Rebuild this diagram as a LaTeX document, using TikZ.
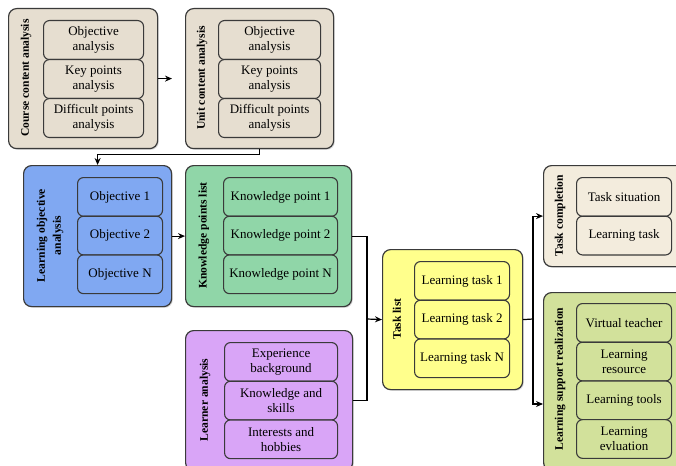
\documentclass[tikz,border=0pt]{standalone}
\usepackage{fontspec}
\setmainfont{Liberation Serif}
\usetikzlibrary{shadows,arrows.meta}

\definecolor{edge}{HTML}{3A3A3A}
\definecolor{beige}{HTML}{E6DED0}
\definecolor{lightbeige}{HTML}{F3ECDD}
\definecolor{objblue}{HTML}{80A8F2}
\definecolor{kpgreen}{HTML}{90D6A8}
\definecolor{lilac}{HTML}{D9A5F7}
\definecolor{taskyellow}{HTML}{FFFF8C}
\definecolor{olive}{HTML}{D2E19B}

\tikzset{
  group/.style={draw=edge, line width=1.2pt, rounded corners=8pt, anchor=north west,
    inner sep=0pt,
    drop shadow={shadow xshift=1.2pt, shadow yshift=-1.2pt, opacity=0.3}},
  item/.style={draw=edge, line width=1.1pt, rounded corners=6pt, anchor=north west,
    align=center, inner sep=0pt, font=\fontsize{13}{14.5}\selectfont},
  title/.style={rotate=90, align=center, font=\bfseries\fontsize{11.6}{16}\selectfont},
  link/.style={draw=black, line width=1.2pt, -{Stealth[length=7pt,width=6pt]}},
  wire/.style={draw=black, line width=1.2pt}
}

\begin{document}
\begin{tikzpicture}[x=1pt, y=-1pt]
\clip (0,0) rectangle (676,465);
\fill[white] (0,0) rectangle (676,465);

% ---------- course content analysis ----------
\node[group, fill=beige, minimum width=149pt, minimum height=140pt] (cca) at (8,8) {};
\node[title] (cca-t) at (26,78) {Course content analysis};
\node[item, fill=beige, minimum width=100pt, minimum height=39pt] (cca1) at (43,20) {Objective\\analysis};
\node[item, fill=beige, minimum width=100pt, minimum height=39pt] (cca2) at (43,59) {Key points\\analysis};
\node[item, fill=beige, minimum width=100pt, minimum height=39pt] (cca3) at (43,98) {Difficult points\\analysis};

% ---------- unit content analysis ----------
\node[group, fill=beige, minimum width=148pt, minimum height=140pt] (uca) at (185,8) {};
\node[title] (uca-t) at (202,78) {Unit content analysis};
\node[item, fill=beige, minimum width=102pt, minimum height=39pt] (uca1) at (218,20) {Objective\\analysis};
\node[item, fill=beige, minimum width=102pt, minimum height=39pt] (uca2) at (218,59) {Key points\\analysis};
\node[item, fill=beige, minimum width=102pt, minimum height=39pt] (uca3) at (218,98) {Difficult points\\analysis};

% ---------- learning objective analysis ----------
\node[group, fill=objblue, minimum width=148pt, minimum height=141pt] (loa) at (23,165) {};
\node[title] (loa-t) at (50,235.5) {Learning objective\\analysis};
\node[item, fill=objblue, minimum width=85pt, minimum height=38.7pt] (loa1) at (77,177) {Objective 1};
\node[item, fill=objblue, minimum width=85pt, minimum height=38.7pt] (loa2) at (77,215.7) {Objective 2};
\node[item, fill=objblue, minimum width=85pt, minimum height=38.7pt] (loa3) at (77,254.4) {Objective N};

% ---------- knowledge points list ----------
\node[group, fill=kpgreen, minimum width=166pt, minimum height=141pt] (kpl) at (185,165) {};
\node[title] (kpl-t) at (204,235.5) {Knowledge points list};
\node[item, fill=kpgreen, minimum width=114pt, minimum height=38.7pt] (kpl1) at (223,177) {Knowledge point 1};
\node[item, fill=kpgreen, minimum width=114pt, minimum height=38.7pt] (kpl2) at (223,215.7) {Knowledge point 2};
\node[item, fill=kpgreen, minimum width=114pt, minimum height=38.7pt] (kpl3) at (223,254.4) {Knowledge point N};

% ---------- learner analysis ----------
\node[group, fill=lilac, minimum width=167pt, minimum height=140pt] (la) at (185,330) {};
\node[title] (la-t) at (205,400) {Learner analysis};
\node[item, fill=lilac, minimum width=113pt, minimum height=38.7pt] (la1) at (224,342) {Experience\\background};
\node[item, fill=lilac, minimum width=113pt, minimum height=38.7pt] (la2) at (224,380.7) {Knowledge and\\skills};
\node[item, fill=lilac, minimum width=113pt, minimum height=38.7pt] (la3) at (224,419.4) {Interests and\\hobbies};

% ---------- task list ----------
\node[group, fill=taskyellow, minimum width=140pt, minimum height=140pt] (tl) at (382,249) {};
\node[title] (tl-t) at (397,319) {Task list};
\node[item, fill=taskyellow, minimum width=95pt, minimum height=38.7pt] (tl1) at (414,261) {Learning task 1};
\node[item, fill=taskyellow, minimum width=95pt, minimum height=38.7pt] (tl2) at (414,299.7) {Learning task 2};
\node[item, fill=taskyellow, minimum width=95pt, minimum height=38.7pt] (tl3) at (414,338.4) {Learning task N};

% ---------- task completion ----------
\node[group, fill=lightbeige, minimum width=145pt, minimum height=101pt] (tc) at (543,165) {};
\node[title] (tc-t) at (560,215.5) {Task completion};
\node[item, fill=lightbeige, minimum width=95pt, minimum height=38.7pt] (tc1) at (576,177) {Task situation};
\node[item, fill=lightbeige, minimum width=95pt, minimum height=38.7pt] (tc2) at (576,215.7) {Learning task};

% ---------- learning support realization ----------
\node[group, fill=olive, minimum width=145pt, minimum height=178pt] (lsr) at (543,292) {};
\node[title] (lsr-t) at (560,379) {Learning support realization};
\node[item, fill=olive, minimum width=95pt, minimum height=38.7pt] (lsr1) at (576,303) {Virtual teacher};
\node[item, fill=olive, minimum width=95pt, minimum height=38.7pt] (lsr2) at (576,341.7) {Learning\\resource};
\node[item, fill=olive, minimum width=95pt, minimum height=38.7pt] (lsr3) at (576,380.4) {Learning tools};
\node[item, fill=olive, minimum width=95pt, minimum height=38.7pt] (lsr4) at (576,419.1) {Learning\\evluation};

% ---------- connectors ----------
\draw[link, shorten >=13pt] (cca.east) -- (uca.west);
\draw[link] (uca.south) -- ++(0,5.5) -| (loa.north);
\draw[link] (loa.east) -- (kpl.west);

\coordinate (join-in) at (367,319);
\draw[wire] (kpl.east) -| (join-in);
\draw[wire] (la.east) -| (join-in);
\draw[link] (join-in) -- (tl.west);

\coordinate (join-out) at (533,319);
\coordinate (lsr-in) at (543,404);
\draw[wire] (tl.east) -- (join-out);
\draw[link] (join-out) |- (tc.west);
\draw[link] (join-out) |- (lsr-in);
\end{tikzpicture}
\end{document}
